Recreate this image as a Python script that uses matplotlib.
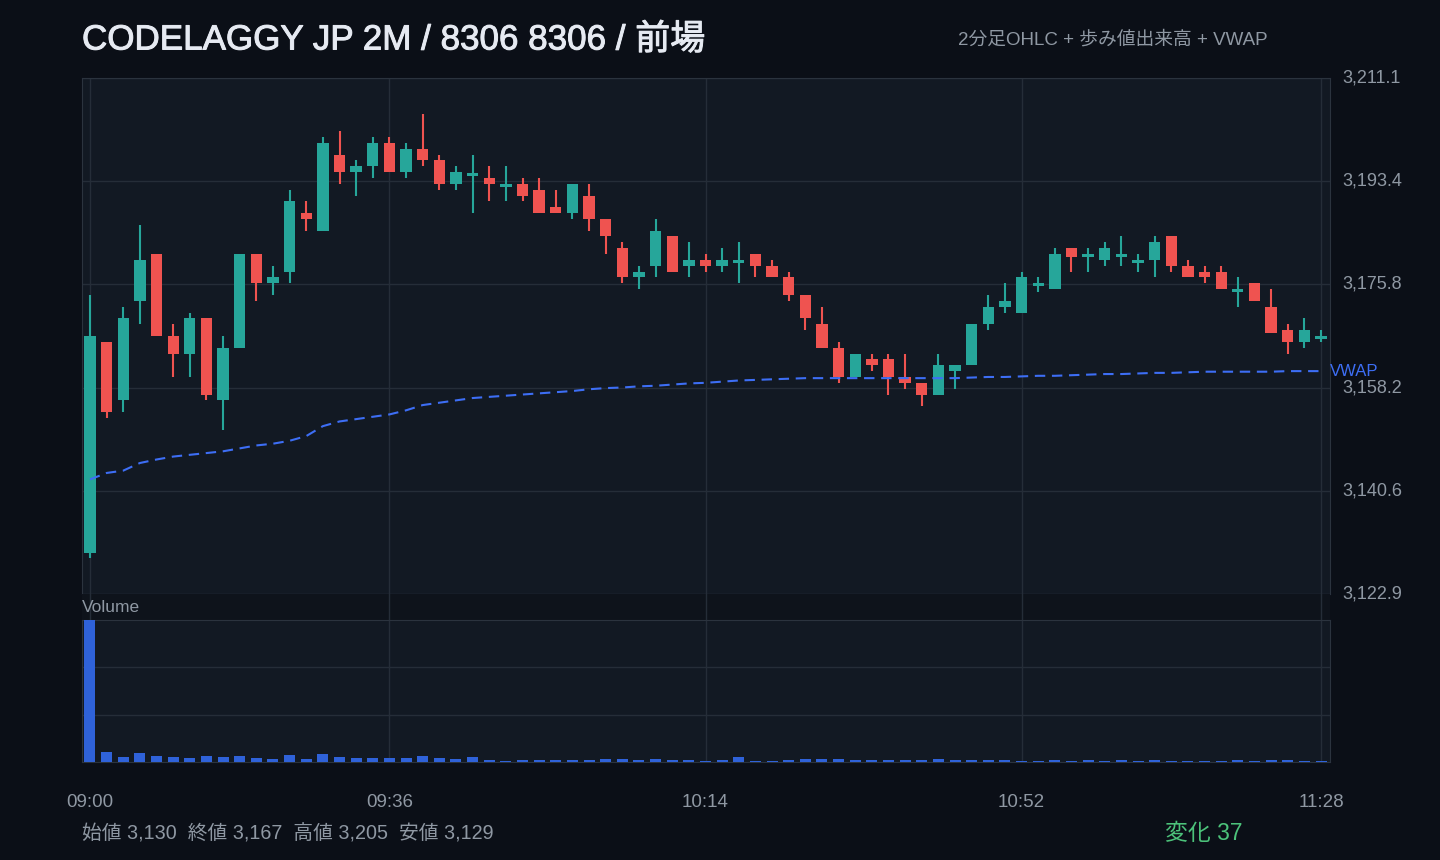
import numpy as np
import matplotlib
matplotlib.use('Agg')
import matplotlib.pyplot as plt
import matplotlib.patheffects as pe

plt.rcParams['font.family'] = ['Liberation Sans', 'Noto Sans CJK JP', 'DejaVu Sans']

# 2分足 OHLC (09:00 - 11:28)
opens = [3130, 3166, 3156, 3173, 3181, 3167, 3164, 3170, 3156, 3165,
         3181, 3176, 3178, 3188, 3185, 3198, 3195, 3196, 3200, 3195,
         3199, 3197, 3193, 3194.3, 3194, 3192.5, 3193, 3192, 3189, 3188,
         3191, 3187, 3182, 3177, 3179, 3184, 3179, 3180, 3179, 3179.5,
         3181, 3179, 3177, 3174, 3169, 3165, 3160, 3163, 3163, 3160,
         3159, 3157, 3161, 3162, 3169, 3172, 3171, 3175.5, 3175, 3182,
         3180.5, 3180, 3180.5, 3179.5, 3180, 3184, 3179, 3178, 3178, 3174.5,
         3176, 3172, 3168, 3166, 3166.5]
highs = [3174, 3166, 3172, 3186, 3181, 3169, 3171, 3170, 3167, 3181,
         3181, 3179, 3192, 3190, 3201, 3202, 3197, 3201, 3201, 3200,
         3205, 3198, 3196, 3198, 3196, 3196, 3194, 3194, 3192, 3193,
         3193, 3187, 3183, 3179, 3187, 3184, 3183, 3181, 3182, 3183,
         3181, 3180, 3178, 3174, 3172, 3166, 3164, 3164, 3164, 3164,
         3159, 3164, 3162, 3169, 3174, 3176, 3178, 3177, 3182, 3182,
         3182, 3183, 3184, 3181, 3184, 3184, 3180, 3179, 3179, 3177,
         3176, 3175, 3169, 3170, 3168]
lows = [3129, 3153, 3154, 3169, 3167, 3160, 3160, 3156, 3151, 3165,
        3173, 3174, 3176, 3185, 3185, 3193, 3191, 3194, 3195, 3194,
        3196, 3192, 3192, 3188, 3190, 3190, 3190, 3188, 3188, 3187,
        3185, 3181, 3176, 3175, 3177, 3178, 3177, 3178, 3178, 3176,
        3177, 3177, 3173, 3168, 3165, 3159, 3160, 3161, 3157, 3158,
        3155, 3157, 3158, 3162, 3168, 3171, 3171, 3174.5, 3175, 3178,
        3178, 3179, 3179, 3178, 3177, 3178, 3177, 3176, 3175, 3172,
        3173, 3167.5, 3164, 3165, 3166]
closes = [3167, 3154, 3170, 3180, 3167, 3164, 3170, 3157, 3165, 3181,
          3176, 3177, 3190, 3187, 3200, 3195, 3196, 3200, 3195, 3199,
          3197, 3193, 3195, 3194.8, 3193, 3193, 3191, 3188, 3188, 3193,
          3187, 3184, 3177, 3178, 3185, 3178, 3180, 3179, 3180, 3180,
          3179, 3177, 3174, 3170, 3165, 3160, 3164, 3162, 3160, 3159,
          3157, 3162, 3162, 3169, 3172, 3173, 3177, 3176, 3181, 3180.5,
          3181, 3182, 3181, 3180, 3183, 3179, 3177, 3177, 3175, 3175,
          3173, 3167.5, 3166, 3168, 3167]

# 歩み値出来高 (百株)
volumes = [428, 29, 14, 26, 17, 14, 11, 17, 14, 17,
           11, 8, 20, 8, 23, 14, 11, 11, 11, 11,
           17, 11, 8, 14, 7, 4, 7, 7, 7, 7,
           7, 10, 10, 7, 10, 7, 7, 4, 7, 16,
           4, 4, 7, 10, 10, 10, 7, 7, 7, 7,
           7, 10, 7, 7, 7, 7, 4, 4, 7, 4,
           7, 4, 7, 4, 7, 4, 4, 4, 4, 7,
           4, 7, 7, 4, 4]

vwap = [3142.5, 3143.6, 3144.0, 3145.3, 3145.9, 3146.4, 3146.7, 3147.0, 3147.3, 3147.8,
        3148.3, 3148.6, 3149.1, 3149.9, 3151.6, 3152.4, 3152.8, 3153.2, 3153.6, 3154.3,
        3155.2, 3155.6, 3156.0, 3156.4, 3156.6, 3156.8, 3157.0, 3157.2, 3157.4, 3157.6,
        3157.9, 3158.1, 3158.2, 3158.4, 3158.5, 3158.7, 3158.9, 3159.0, 3159.2, 3159.4,
        3159.5, 3159.6, 3159.7, 3159.8, 3159.8, 3159.8, 3159.8, 3159.8, 3159.8, 3159.8,
        3159.8, 3159.8, 3159.8, 3159.9, 3160.0, 3160.0, 3160.1, 3160.2, 3160.2, 3160.3,
        3160.4, 3160.5, 3160.5, 3160.6, 3160.7, 3160.7, 3160.8, 3160.9, 3160.9, 3160.9,
        3160.9, 3160.9, 3161.0, 3161.0, 3161.0]

time_ticks = [0, 18, 37, 56, 74]
time_labels = ['09:00', '09:36', '10:14', '10:52', '11:28']
price_labels = ['3,122.9', '3,140.6', '3,158.2', '3,175.8', '3,193.4', '3,211.1']

# cores
BG = '#0b0f17'
PANEL = '#121923'
GRID = '#252d38'
BORDER = '#2b333e'
TXT = '#8f98a3'
UP = '#26a69a'
DOWN = '#ef5350'

o = np.array(opens)
h = np.array(highs)
l = np.array(lows)
c = np.array(closes)
x = np.arange(len(o))

fig = plt.figure(figsize=(14.4, 8.6), dpi=100, facecolor=BG)
W, H = 1440, 860

def rect(left, top, right, bottom):
    return [left / W, 1 - bottom / H, (right - left) / W, (bottom - top) / H]

ax = fig.add_axes(rect(82, 78, 1330, 594), facecolor=PANEL)
strip = fig.add_axes(rect(82, 594, 1330, 620), facecolor='#0e131b')
axv = fig.add_axes(rect(82, 620, 1330, 762), facecolor=PANEL)

xlim = (-0.48, 74.54)

# velas
cores = np.where(c >= o, UP, DOWN)
ax.vlines(x, l, h, colors=cores, linewidth=1.5, zorder=3)
ax.bar(x, np.abs(c - o), bottom=np.minimum(o, c), width=0.68, color=cores, zorder=4)

# VWAP
ax.plot(x, vwap, color='#3d6ef5', linewidth=1.5, dashes=(5, 3.2), zorder=5)
ax.text(1.0, vwap[-1], 'VWAP', transform=ax.get_yaxis_transform(), color='#3d6ef5',
        fontsize=12, ha='left', va='center', clip_on=False)

pad = (max(highs) - min(lows)) * 0.08
ymin, ymax = min(lows) - pad, max(highs) + pad
ax.set_ylim(ymin, ymax)
ax.set_xlim(*xlim)
ax.set_yticks(np.linspace(ymin, ymax, 6))
ax.set_yticklabels(price_labels)
ax.yaxis.tick_right()
ax.tick_params(axis='y', length=0, pad=9, labelsize=13, labelcolor=TXT)
for lbl in ax.get_yticklabels():
    lbl.set_verticalalignment('center')
ax.set_xticks(time_ticks)
ax.tick_params(axis='x', length=0, labelbottom=False)
ax.grid(True, color=GRID, linewidth=1)
ax.set_axisbelow(True)
for s in ax.spines.values():
    s.set_color(BORDER)

# faixa "Volume"
strip.set_xlim(*xlim)
strip.set_ylim(0, 1)
for t in time_ticks:
    strip.axvline(t, color=GRID, linewidth=1)
strip.set_xticks([])
strip.set_yticks([])
for s in strip.spines.values():
    s.set_visible(False)
strip.text(0, 0.5, 'Volume', transform=strip.transAxes, color=TXT, fontsize=12.5,
           ha='left', va='center')

# volume
axv.bar(x, volumes, width=0.66, color='#2f62d9', zorder=3)
axv.set_xlim(*xlim)
axv.set_ylim(0, max(volumes))
axv.set_yticks([max(volumes) / 3, max(volumes) * 2 / 3])
axv.set_yticklabels([])
axv.set_xticks(time_ticks)
axv.set_xticklabels(time_labels)
axv.tick_params(axis='x', length=0, pad=23, labelsize=13.5, labelcolor=TXT)
axv.tick_params(axis='y', length=0)
axv.grid(True, color=GRID, linewidth=1)
axv.set_axisbelow(True)
for s in axv.spines.values():
    s.set_color(BORDER)

# textos
titulo = fig.text(82 / W, 1 - 40 / H, 'CODELAGGY JP 2M / 8306 8306 / 前場', color='#e6eaf2',
                  fontsize=25.2, ha='left', va='center')
titulo.set_path_effects([pe.withStroke(linewidth=0.7, foreground='#e6eaf2')])
fig.text(1268 / W, 1 - 40 / H, '2分足OHLC + 歩み値出来高 + VWAP', color=TXT,
         fontsize=13.5, ha='right', va='center')
fig.text(82 / W, 1 - 834 / H, '始値 3,130  終値 3,167  高値 3,205  安値 3,129',
         color=TXT, fontsize=14.2, ha='left', va='center')
fig.text(1165 / W, 1 - 834 / H, '変化 37', color='#4cc27a', fontsize=16.5,
         ha='left', va='center')

fig.savefig('out.png', dpi=100, facecolor=BG)
